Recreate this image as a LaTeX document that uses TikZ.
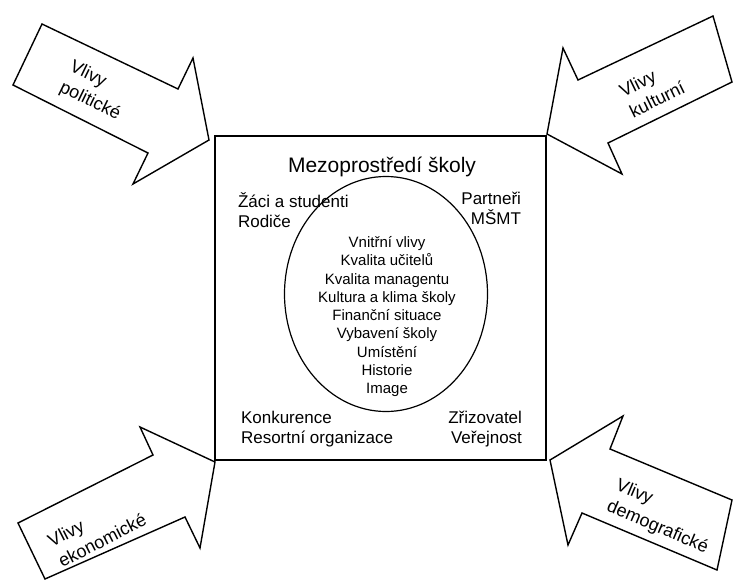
\documentclass[tikz,border=0pt]{standalone}
\usepackage{fontspec}
\setmainfont{Liberation Sans}
\tikzset{
  vliv/.style={align=left,font=\fontsize{18}{23}\selectfont},
  popis/.style={font=\fontsize{17}{20}\selectfont},
  uvnitr/.style={font=\fontsize{15}{18}\selectfont}
}
\begin{document}
\begin{tikzpicture}[x=1pt,y=-1pt,line width=1.4pt,line join=miter]
\useasboundingbox (0,0) rectangle (734,581);
% sipky vlivu
\draw (42,24) -- (178,89) -- (193,58) -- (209,140) -- (133,184) -- (148,153) -- (13,85) -- cycle;
\draw (547,134) -- (563,48) -- (578,80) -- (713,16) -- (732,82) -- (608,143) -- (622,174) -- cycle;
\draw (215,462) -- (140,427) -- (153,455) -- (18,523) -- (45,579) -- (185,517) -- (200,548) -- cycle;
\draw (550,460) -- (623,416) -- (610,449) -- (732,500) -- (717,570) -- (582,513) -- (568,545) -- cycle;
\node[vliv,rotate=-26] (politicke) at (95,91) {Vlivy\\politické};
\node[vliv,rotate=26] (kulturni) at (652,89) {Vlivy\\kulturní};
\node[vliv,rotate=27] (ekonomicke) at (97,530) {Vlivy\\ekonomické};
\node[vliv,rotate=-23] (demograficke) at (662,517) {Vlivy\\demografické};
% mezoprostredi
\draw (215,136) rectangle (546,460);
\node[font=\fontsize{21}{25}\selectfont] (mezo) at (382,167) {Mezoprostředí školy};
\node[popis,align=left,anchor=west] (zaci) at (234,210) {Žáci a studenti\\Rodiče};
\node[popis,align=right,anchor=east] (partneri) at (525,208) {Partneři\\MŠMT};
\node[popis,align=left,anchor=west] (konkurence) at (237,429) {Konkurence\\Resortní organizace};
\node[popis,align=right,anchor=east] (zrizovatel) at (526,429) {Zřizovatel\\Veřejnost};
% vnitrni vlivy
\draw[line width=1.2pt] (386,294) ellipse [x radius=101.5, y radius=117.5];
\foreach \t [count=\i] in {Vnitřní vlivy,Kvalita učitelů,Kvalita managentu,Kultura a klima školy,Finanční situace,Vybavení školy,Umístění,Historie,Image}
  \node[uvnitr,anchor=base] (vnitrni\i) at (387,229.1+18.3*\i) {\t};
\end{tikzpicture}
\end{document}
